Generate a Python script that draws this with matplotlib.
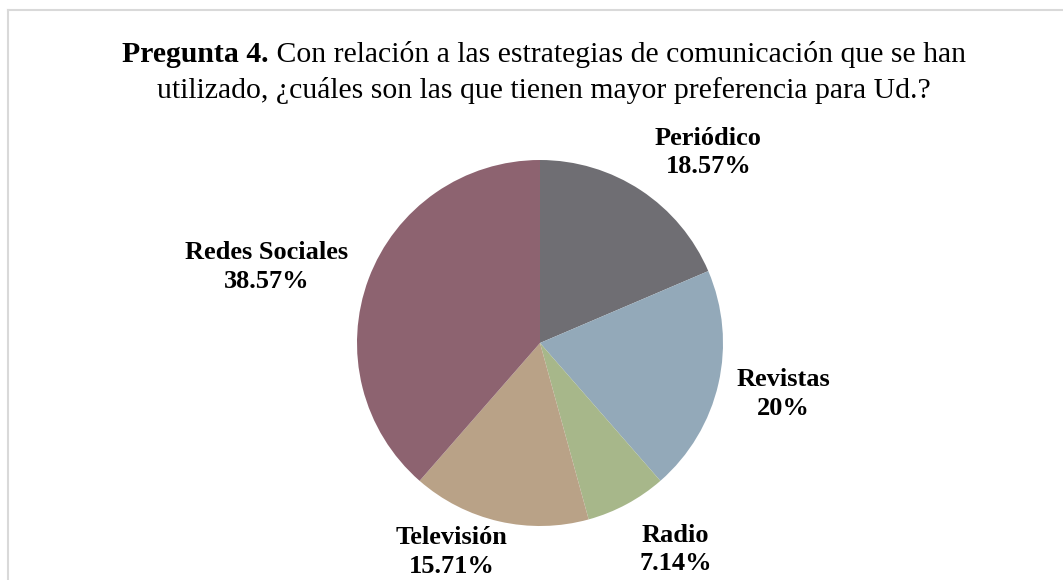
import numpy as np
import matplotlib.pyplot as plt
from matplotlib.lines import Line2D

# Data
categories = ['Periódico', 'Revistas', 'Radio', 'Televisión', 'Redes Sociales']
percentages = [18.57, 20.0, 7.14, 15.71, 38.57]
pct_labels = ['18.57%', '20%', '7.14%', '15.71%', '38.57%']
colors = ['#6f6e73', '#93a9b9', '#a7b78a', '#b9a287', '#8d6370']

plt.rcParams['font.family'] = ['Liberation Serif', 'DejaVu Serif']

W, H = 1063, 580
fig = plt.figure(figsize=(W / 100, H / 100), dpi=100)
ax = fig.add_axes([0, 0, 1, 1])

# pie centre and radius in pixels
cx, cy, r = 540, 343, 183

wedges, _ = ax.pie(percentages, colors=colors, startangle=90, counterclock=False,
                   radius=1, wedgeprops=dict(linewidth=0))
ax.set_aspect('auto')
ax.set_xlim(-cx / r, (W - cx) / r)
ax.set_ylim(-(H - cy) / r, cy / r)
ax.axis('off')

# label placement: radial distance and angle shift relative to wedge middle
label_dist = [1.39, 1.36, 1.35, 1.24, 1.55]
label_shift = [-8, 1, 5, -10, 5]
for w, cat, pl, d, s in zip(wedges, categories, pct_labels, label_dist, label_shift):
    ang = np.deg2rad((w.theta1 + w.theta2) / 2 + s)
    ax.text(d * np.cos(ang), d * np.sin(ang), cat + '\n' + pl,
            ha='center', va='center', fontsize=19, fontweight='bold',
            linespacing=1.3)

# title with bold prefix
t_bold = 'Pregunta 4.'
t_rest = ' Con relación a las estrategias de comunicación que se han'
t_line2 = 'utilizado, ¿cuáles son las que tienen mayor preferencia para Ud.?'
fs = 21.4
y1 = 1 - 54 / H
y2 = 1 - 90 / H
xc = 544 / W
tb = fig.text(0, y1, t_bold, fontsize=fs, fontweight='bold', va='center', ha='left')
tr = fig.text(0, y1, t_rest, fontsize=fs, va='center', ha='left')
fig.text(xc, y2, t_line2, fontsize=fs, va='center', ha='center')
fig.canvas.draw()
rend = fig.canvas.get_renderer()
wb = tb.get_window_extent(rend).width
wr = tr.get_window_extent(rend).width
x0 = xc * W - (wb + wr) / 2
tb.set_x(x0 / W)
tr.set_x((x0 + wb) / W)

# chart area border (top and left visible)
fig.add_artist(Line2D([7.5 / W, 1], [1 - 10 / H, 1 - 10 / H], color='#d9d9d9', lw=1.5))
fig.add_artist(Line2D([7.5 / W, 7.5 / W], [0, 1 - 10 / H], color='#d9d9d9', lw=1.5))

fig.savefig('out.png', dpi=100)
